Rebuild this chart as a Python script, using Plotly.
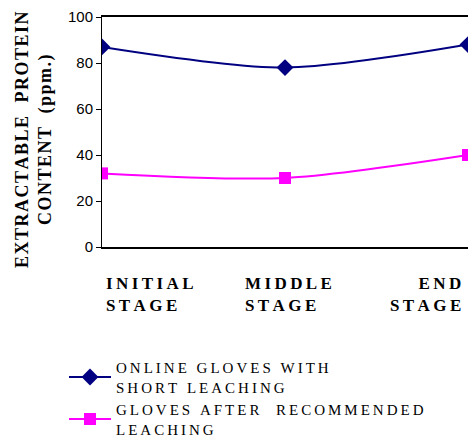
import plotly.graph_objects as go

# Data
stages = ["INITIAL STAGE", "MIDDLE STAGE", "END STAGE"]
stage_lines = [["INITIAL", "STAGE"], ["MIDDLE", "STAGE"], ["END", "STAGE"]]
short_leaching = [87, 78, 88]
recommended_leaching = [32, 30, 40]
series_names = [["ONLINE GLOVES WITH", "SHORT LEACHING"],
                ["GLOVES AFTER  RECOMMENDED", "LEACHING"]]
y_title_lines = ["EXTRACTABLE  PROTEIN", "CONTENT  (ppm.)"]
y_ticks = [0, 20, 40, 60, 80, 100]

SERIF = "Liberation Serif"
SANS = "Liberation Sans"


def track(line, sp):
    return sp.join(line)


def track_lines(lines, sp="\u2009"):
    return "<br>".join(track(l, sp) for l in lines)


W, H = 468, 445
L, R, T, B = 102, 0, 17, 198
pw, ph = W - L - R, H - T - B


def px(x):
    return (x - L) / pw


def py(y):
    return 1 - (y - T) / ph


fig = go.Figure()
fig.add_trace(go.Scatter(
    x=[0, 1, 2], y=short_leaching, mode="lines+markers",
    name=track_lines(series_names[0]),
    line=dict(color="#000080", width=2, shape="spline", smoothing=0.8),
    marker=dict(symbol="diamond", size=13, color="#000080"),
))
fig.add_trace(go.Scatter(
    x=[0, 1, 2], y=recommended_leaching, mode="lines+markers",
    name=track_lines(series_names[1]),
    line=dict(color="#FF00FF", width=2, shape="spline", smoothing=0.8),
    marker=dict(symbol="square", size=12, color="#FF00FF"),
))

# Category labels under the plot
label_specs = [(104, "left"), (243, "left"), (463, "right")]
for lines, (xp, anchor) in zip(stage_lines, label_specs):
    fig.add_annotation(
        x=px(xp), y=py(272), xref="paper", yref="paper",
        xanchor=anchor, yanchor="top", align=anchor, showarrow=False,
        text="<b>" + track_lines(lines) + "</b>",
        font=dict(family=SERIF, size=17, color="black"),
    )

# Vertical axis title
fig.add_annotation(
    x=px(34), y=py(140), xref="paper", yref="paper",
    xanchor="center", yanchor="middle", textangle=-90, showarrow=False,
    text="<b>" + track_lines(y_title_lines, "\u200a") + "</b>",
    font=dict(family=SERIF, size=18, color="black"),
)

fig.update_layout(
    width=W, height=H,
    margin=dict(l=L, r=R, t=T, b=B),
    paper_bgcolor="white", plot_bgcolor="white",
    font=dict(family=SERIF, color="black"),
    showlegend=True,
    legend=dict(
        x=px(64), y=py(351), xanchor="left", yanchor="top",
        font=dict(family=SERIF, size=15, color="black"),
        bgcolor="rgba(0,0,0,0)", tracegroupgap=0, itemwidth=42,
    ),
    xaxis=dict(
        range=[0, 2], showgrid=False, zeroline=False, showticklabels=False,
        showline=True, mirror=True, linecolor="black", linewidth=2, ticks="",
    ),
    yaxis=dict(
        range=[0, 100], tickvals=y_ticks, showgrid=False, zeroline=False,
        showline=True, linecolor="black", linewidth=1,
        ticks="outside", ticklen=5, tickcolor="black",
        tickfont=dict(family=SANS, size=15, color="black"),
    ),
)

fig.write_html("out.html")
